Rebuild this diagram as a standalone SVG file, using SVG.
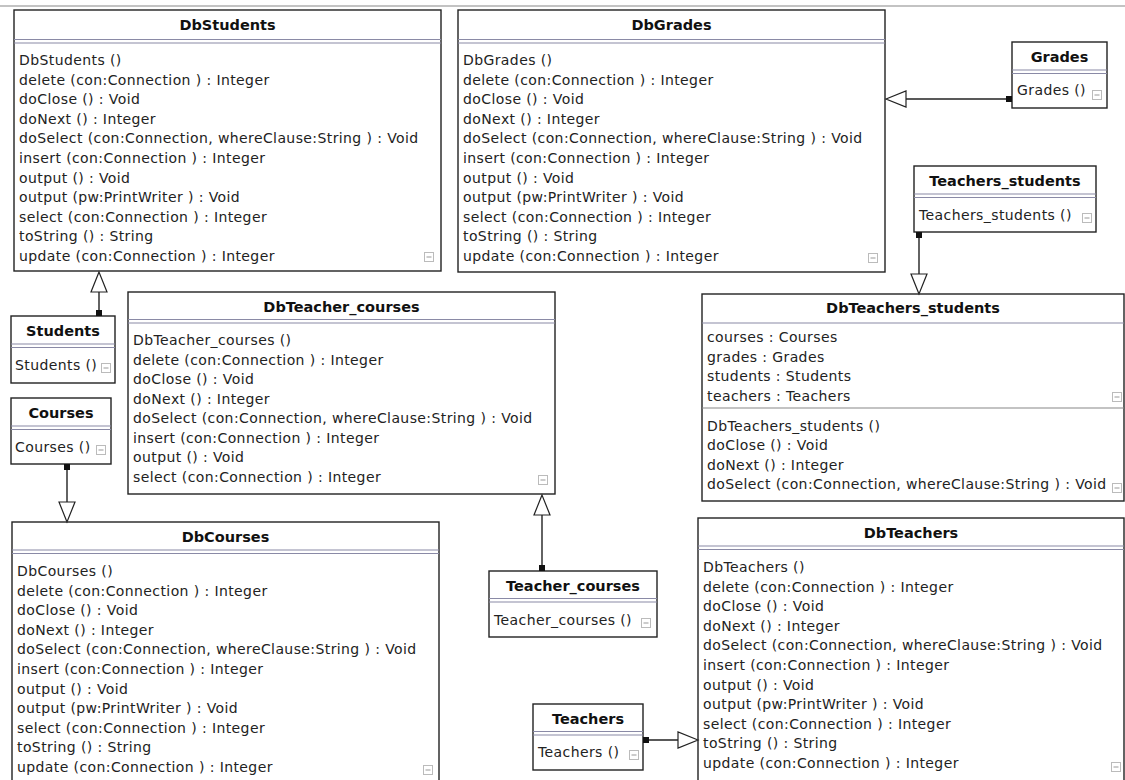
<svg xmlns="http://www.w3.org/2000/svg" xmlns:xlink="http://www.w3.org/1999/xlink" width="1125" height="780" viewBox="0 0 1125 780">
<style>
.box{fill:#fff;stroke:#222;stroke-width:1.4}
.sep{stroke:#8a8aa6;stroke-width:1.2}
.sepg{stroke:#888;stroke-width:1.2}
.ttl{font-family:"DejaVu Sans",sans-serif;font-weight:bold;font-size:14.5px;fill:#111;text-anchor:middle}
.row{font-family:"DejaVu Sans",sans-serif;font-size:14px;letter-spacing:0.4px;fill:#222}
.conn{stroke:#222;stroke-width:1.4;fill:none}
.tri{fill:#fff;stroke:#222;stroke-width:1.2}
.sq{fill:#111}
</style>
<defs>
<g id="col"><rect x="0.5" y="0.5" width="9" height="9" fill="#fff" stroke="#bbb"/><line x1="2.5" y1="5" x2="7.5" y2="5" stroke="#999"/></g>
</defs>
<rect width="1125" height="780" fill="#fff"/>
<line x1="0" y1="6" x2="1125" y2="6" stroke="#888" stroke-width="1.2"/>

<g id="DbStudents">
<rect class="box" x="14" y="10" width="427" height="261"/>
<text class="ttl" x="227.5" y="30">DbStudents</text>
<line class="sep" x1="14" y1="39.5" x2="441" y2="39.5"/><line class="sep" x1="14" y1="43" x2="441" y2="43"/>
<text class="row" x="19" y="65"><tspan x="19">DbStudents ()</tspan><tspan x="19" dy="19.6">delete (con:Connection ) : Integer</tspan><tspan x="19" dy="19.6">doClose () : Void</tspan><tspan x="19" dy="19.6">doNext () : Integer</tspan><tspan x="19" dy="19.6">doSelect (con:Connection, whereClause:String ) : Void</tspan><tspan x="19" dy="19.6">insert (con:Connection ) : Integer</tspan><tspan x="19" dy="19.6">output () : Void</tspan><tspan x="19" dy="19.6">output (pw:PrintWriter ) : Void</tspan><tspan x="19" dy="19.6">select (con:Connection ) : Integer</tspan><tspan x="19" dy="19.6">toString () : String</tspan><tspan x="19" dy="19.6">update (con:Connection ) : Integer</tspan></text>
<use xlink:href="#col" x="424" y="252"/>
</g>

<g id="DbGrades">
<rect class="box" x="458" y="10" width="427" height="262"/>
<text class="ttl" x="671.5" y="30">DbGrades</text>
<line class="sep" x1="458" y1="39.5" x2="885" y2="39.5"/><line class="sep" x1="458" y1="43" x2="885" y2="43"/>
<text class="row" x="463" y="65"><tspan x="463">DbGrades ()</tspan><tspan x="463" dy="19.6">delete (con:Connection ) : Integer</tspan><tspan x="463" dy="19.6">doClose () : Void</tspan><tspan x="463" dy="19.6">doNext () : Integer</tspan><tspan x="463" dy="19.6">doSelect (con:Connection, whereClause:String ) : Void</tspan><tspan x="463" dy="19.6">insert (con:Connection ) : Integer</tspan><tspan x="463" dy="19.6">output () : Void</tspan><tspan x="463" dy="19.6">output (pw:PrintWriter ) : Void</tspan><tspan x="463" dy="19.6">select (con:Connection ) : Integer</tspan><tspan x="463" dy="19.6">toString () : String</tspan><tspan x="463" dy="19.6">update (con:Connection ) : Integer</tspan></text>
<use xlink:href="#col" x="868" y="253"/>
</g>

<g id="Grades">
<rect class="box" x="1012" y="42" width="95" height="66"/>
<text class="ttl" x="1059.5" y="62">Grades</text>
<line class="sep" x1="1012" y1="70" x2="1107" y2="70"/><line class="sep" x1="1012" y1="73.5" x2="1107" y2="73.5"/>
<text class="row" x="1017" y="95">Grades ()</text>
<use xlink:href="#col" x="1092" y="90"/>
</g>

<g id="Teachers_students">
<rect class="box" x="914" y="166" width="182" height="66"/>
<text class="ttl" x="1005" y="186">Teachers_students</text>
<line class="sep" x1="914" y1="194" x2="1096" y2="194"/><line class="sep" x1="914" y1="197.5" x2="1096" y2="197.5"/>
<text class="row" x="919" y="220">Teachers_students ()</text>
<use xlink:href="#col" x="1082" y="213"/>
</g>

<g id="Students">
<rect class="box" x="11" y="316" width="104" height="67"/>
<text class="ttl" x="63" y="336">Students</text>
<line class="sep" x1="11" y1="344" x2="115" y2="344"/><line class="sep" x1="11" y1="347.5" x2="115" y2="347.5"/>
<text class="row" x="15" y="370">Students ()</text>
<use xlink:href="#col" x="101" y="363"/>
</g>

<g id="Courses">
<rect class="box" x="11" y="398" width="100" height="66"/>
<text class="ttl" x="61" y="418">Courses</text>
<line class="sep" x1="11" y1="426" x2="111" y2="426"/><line class="sep" x1="11" y1="429.5" x2="111" y2="429.5"/>
<text class="row" x="15" y="452">Courses ()</text>
<use xlink:href="#col" x="96" y="445"/>
</g>

<g id="DbTeacher_courses">
<rect class="box" x="128" y="292" width="427" height="202"/>
<text class="ttl" x="341.5" y="312">DbTeacher_courses</text>
<line class="sep" x1="128" y1="319.5" x2="555" y2="319.5"/><line class="sep" x1="128" y1="323" x2="555" y2="323"/>
<text class="row" x="133" y="345"><tspan x="133">DbTeacher_courses ()</tspan><tspan x="133" dy="19.5">delete (con:Connection ) : Integer</tspan><tspan x="133" dy="19.5">doClose () : Void</tspan><tspan x="133" dy="19.5">doNext () : Integer</tspan><tspan x="133" dy="19.5">doSelect (con:Connection, whereClause:String ) : Void</tspan><tspan x="133" dy="19.5">insert (con:Connection ) : Integer</tspan><tspan x="133" dy="19.5">output () : Void</tspan><tspan x="133" dy="19.5">select (con:Connection ) : Integer</tspan></text>
<use xlink:href="#col" x="538" y="475"/>
</g>

<g id="DbTeachers_students">
<rect class="box" x="702" y="294" width="422" height="207"/>
<text class="ttl" x="913" y="313">DbTeachers_students</text>
<line class="sep" x1="702" y1="323" x2="1124" y2="323"/>
<text class="row" x="707" y="342"><tspan x="707">courses : Courses</tspan><tspan x="707" dy="19.6">grades : Grades</tspan><tspan x="707" dy="19.6">students : Students</tspan><tspan x="707" dy="19.6">teachers : Teachers</tspan></text>
<use xlink:href="#col" x="1112" y="392"/>
<line class="sepg" x1="702" y1="408" x2="1124" y2="408"/>
<text class="row" x="707" y="431"><tspan x="707">DbTeachers_students ()</tspan><tspan x="707" dy="19.3">doClose () : Void</tspan><tspan x="707" dy="19.3">doNext () : Integer</tspan><tspan x="707" dy="19.3">doSelect (con:Connection, whereClause:String ) : Void</tspan></text>
<use xlink:href="#col" x="1112" y="483"/>
</g>

<g id="DbCourses">
<rect class="box" x="12" y="522" width="427" height="280"/>
<text class="ttl" x="225.5" y="542">DbCourses</text>
<line class="sep" x1="12" y1="550" x2="439" y2="550"/><line class="sep" x1="12" y1="553.5" x2="439" y2="553.5"/>
<text class="row" x="17" y="576"><tspan x="17">DbCourses ()</tspan><tspan x="17" dy="19.6">delete (con:Connection ) : Integer</tspan><tspan x="17" dy="19.6">doClose () : Void</tspan><tspan x="17" dy="19.6">doNext () : Integer</tspan><tspan x="17" dy="19.6">doSelect (con:Connection, whereClause:String ) : Void</tspan><tspan x="17" dy="19.6">insert (con:Connection ) : Integer</tspan><tspan x="17" dy="19.6">output () : Void</tspan><tspan x="17" dy="19.6">output (pw:PrintWriter ) : Void</tspan><tspan x="17" dy="19.6">select (con:Connection ) : Integer</tspan><tspan x="17" dy="19.6">toString () : String</tspan><tspan x="17" dy="19.6">update (con:Connection ) : Integer</tspan></text>
<use xlink:href="#col" x="423" y="765"/>
</g>

<g id="Teacher_courses">
<rect class="box" x="489" y="571" width="168" height="66"/>
<text class="ttl" x="573" y="591">Teacher_courses</text>
<line class="sep" x1="489" y1="598.5" x2="657" y2="598.5"/><line class="sep" x1="489" y1="602" x2="657" y2="602"/>
<text class="row" x="494" y="625">Teacher_courses ()</text>
<use xlink:href="#col" x="641" y="618"/>
</g>

<g id="DbTeachers">
<rect class="box" x="698" y="518" width="426" height="284"/>
<text class="ttl" x="911" y="538">DbTeachers</text>
<line class="sep" x1="698" y1="546" x2="1124" y2="546"/><line class="sep" x1="698" y1="549.5" x2="1124" y2="549.5"/>
<text class="row" x="703" y="572"><tspan x="703">DbTeachers ()</tspan><tspan x="703" dy="19.6">delete (con:Connection ) : Integer</tspan><tspan x="703" dy="19.6">doClose () : Void</tspan><tspan x="703" dy="19.6">doNext () : Integer</tspan><tspan x="703" dy="19.6">doSelect (con:Connection, whereClause:String ) : Void</tspan><tspan x="703" dy="19.6">insert (con:Connection ) : Integer</tspan><tspan x="703" dy="19.6">output () : Void</tspan><tspan x="703" dy="19.6">output (pw:PrintWriter ) : Void</tspan><tspan x="703" dy="19.6">select (con:Connection ) : Integer</tspan><tspan x="703" dy="19.6">toString () : String</tspan><tspan x="703" dy="19.6">update (con:Connection ) : Integer</tspan></text>
<use xlink:href="#col" x="1111" y="762"/>
</g>

<g id="Teachers">
<rect class="box" x="533" y="704" width="110" height="66"/>
<text class="ttl" x="588" y="724">Teachers</text>
<line class="sep" x1="533" y1="731.5" x2="643" y2="731.5"/><line class="sep" x1="533" y1="735" x2="643" y2="735"/>
<text class="row" x="538" y="757">Teachers ()</text>
<use xlink:href="#col" x="629" y="750"/>
</g>

<g id="connectors">
<line class="conn" x1="99" y1="316" x2="99" y2="292"/>
<polygon class="tri" points="99,272 91,292 107,292"/>
<rect class="sq" x="96" y="310" width="6" height="6"/>

<line class="conn" x1="67" y1="464" x2="67" y2="502"/>
<polygon class="tri" points="67,522 59,502 75,502"/>
<rect class="sq" x="64" y="464" width="6" height="6"/>

<line class="conn" x1="542" y1="571" x2="542" y2="515"/>
<polygon class="tri" points="542,495 534,515 550,515"/>
<rect class="sq" x="539" y="565" width="6" height="6"/>

<line class="conn" x1="1012" y1="99" x2="906" y2="99"/>
<polygon class="tri" points="886,99 906,91 906,107"/>
<rect class="sq" x="1006" y="96" width="6" height="6"/>

<line class="conn" x1="919" y1="232" x2="919" y2="274"/>
<polygon class="tri" points="919,294 911,274 927,274"/>
<rect class="sq" x="916" y="232" width="6" height="6"/>

<line class="conn" x1="643" y1="740" x2="678" y2="740"/>
<polygon class="tri" points="698,740 678,732 678,748"/>
<rect class="sq" x="643" y="737" width="6" height="6"/>
</g>
</svg>
